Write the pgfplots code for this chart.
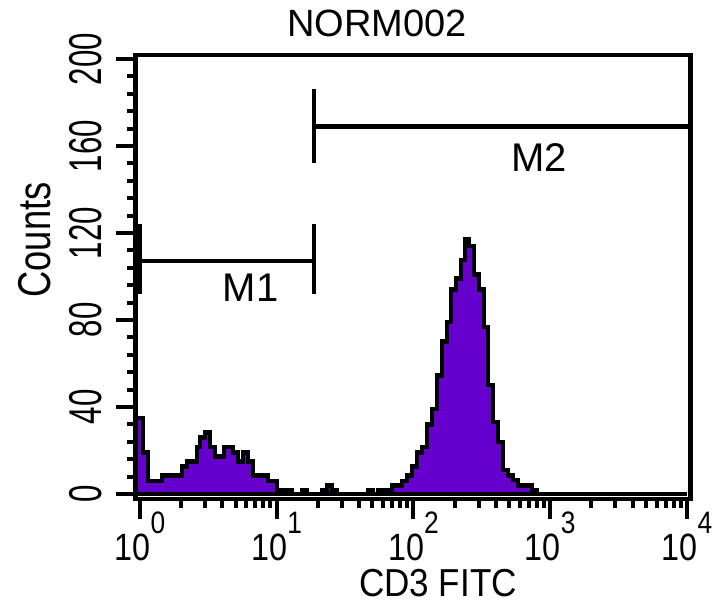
\documentclass[border=0pt]{standalone}
\usepackage{pgfplots}
\pgfplotsset{compat=1.18}
\usepackage{fontspec}
\setmainfont{Liberation Sans}
\definecolor{histfill}{RGB}{102,0,204}
\newcommand\xl[1]{\scalebox{0.85}[1]{\fontsize{38}{38}\selectfont 10\raisebox{27pt}{\fontsize{31}{31}\selectfont #1}}}
\newcommand\yl[1]{\scalebox{0.68}[1]{\fontsize{46}{46}\selectfont #1}}
\begin{document}
\begin{tikzpicture}[x=1pt,y=1pt]
\useasboundingbox (0,0) rectangle (721,606);
\begin{axis}[
  at={(135.7pt,107pt)}, anchor=south west,
  scale only axis, width=554.8pt, height=444pt,
  xmin=-0.031, xmax=4.026, ymin=-2.3, ymax=201.8,
  axis on top,
  axis line style={line width=4.7pt, line join=miter},
  tick pos=left, tick align=outside,
  major tick length=20pt, minor tick length=9pt,
  every tick/.style={black, line width=4pt},
  xtick={0,1,2,3,4},
  xticklabels={\xl{0},\xl{1},\xl{2},\xl{3},\xl{4}},
  minor xtick={0.301,0.477,0.602,0.699,0.778,0.845,0.903,0.954,
               1.301,1.477,1.602,1.699,1.778,1.845,1.903,1.954,
               2.301,2.477,2.602,2.699,2.778,2.845,2.903,2.954,
               3.301,3.477,3.602,3.699,3.778,3.845,3.903,3.954},
  ytick={0,40,80,120,160,200},
  yticklabels={\yl{0},\yl{40},\yl{80},\yl{120},\yl{160},\yl{200}},
  minor ytick={8,16,24,32,48,56,64,72,88,96,104,112,128,136,144,152,168,176,184,192},
  xticklabel style={anchor=base, yshift=-41pt},
  yticklabel style={xshift=-14pt, rotate=90, anchor=base},
]
\addplot[const plot, fill=histfill, draw=black, line width=4.5pt, line join=miter] coordinates {
(-0.031,35)(0.022,19)(0.059,6)(0.161,8.5)(0.307,12.7)(0.344,15)(0.417,21.5)(0.439,26)(0.475,28.3)(0.512,21.5)(0.548,17.3)(0.614,21.5)(0.680,19)(0.717,15)(0.753,19)(0.790,15)(0.826,8.5)(0.936,6)(1.002,1.7)(1.112,0)(1.185,1.7)(1.221,0)(1.331,1.7)(1.367,4)(1.404,1.7)(1.441,0)(1.667,1.7)(1.704,0)(1.740,1.7)(1.843,4)(1.916,6)(1.952,8.6)(1.989,12.7)(2.026,19)(2.062,21.5)(2.099,32)(2.135,39)(2.172,54.5)(2.208,70)(2.245,79)(2.274,94)(2.311,99)(2.347,107.5)(2.377,117)(2.406,114)(2.442,101)(2.479,94)(2.516,76.7)(2.545,50)(2.581,33)(2.618,23.8)(2.654,11)(2.691,8.6)(2.728,6.4)(2.764,4)(2.867,1.7)(2.903,0)(4.0,0)
} \closedcycle;
% marker M1
\addplot[black, line width=4.5pt] coordinates {(0.0,107)(1.272,107)};
\addplot[black, line width=4.5pt] coordinates {(0.0,92)(0.0,124)};
\addplot[black, line width=4.5pt] coordinates {(1.272,92)(1.272,124)};
% marker M2
\addplot[black, line width=4.5pt] coordinates {(1.272,169)(4.026,169)};
\addplot[black, line width=4.5pt] coordinates {(1.272,152)(1.272,186)};
\node at (axis cs:0.81,95) {\fontsize{40}{40}\selectfont M1};
\node at (axis cs:2.92,154.5) {\fontsize{40}{40}\selectfont M2};
\end{axis}
\node at (377,583) {\fontsize{38}{38}\selectfont NORM002};
\node[rotate=90] at (35,366) {\fontsize{46}{46}\selectfont\scalebox{0.79}[1]{Counts}};
\node at (438,23) {\fontsize{39}{39}\selectfont\scalebox{0.9}[1]{CD3 FITC}};
\end{tikzpicture}
\end{document}
